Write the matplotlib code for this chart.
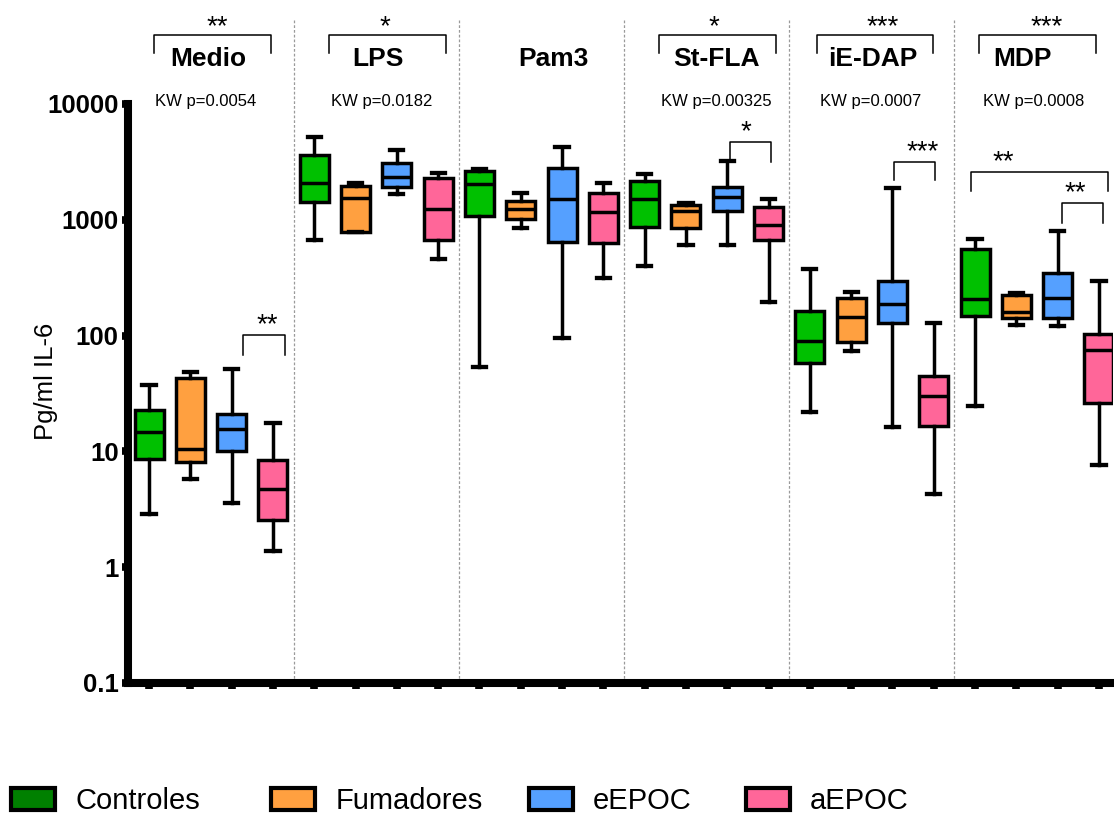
import numpy as np
import matplotlib.pyplot as plt
from matplotlib.patches import Patch
from matplotlib.transforms import blended_transform_factory

plt.rcParams['font.family'] = ['Liberation Sans', 'DejaVu Sans']

stimuli = ['Medio', 'LPS', 'Pam3', 'St-FLA', 'iE-DAP', 'MDP']
groups = ['Controles', 'Fumadores', 'eEPOC', 'aEPOC']
box_colors = ['#00C000', '#FFA040', '#55A0FF', '#FF6699']
legend_colors = ['#008000', '#FFA040', '#55A0FF', '#FF6699']

kw_labels = ['KW p=0.0054', 'KW p=0.0182', '', 'KW p=0.00325', 'KW p=0.0007', 'KW p=0.0008']
kw_stars = ['**', '*', '', '*', '***', '***']

# IL-6 (pg/ml) box statistics: one row per stimulus, columns follow `groups`
whis_lo = [[2.9, 5.8, 3.6, 1.38],
           [670, 785, 1670, 458],
           [54, 850, 95, 314],
           [400, 606, 606, 195],
           [22, 74, 16.3, 4.3],
           [24.7, 124, 121, 7.6]]
q1 = [[8.6, 8.1, 10.1, 2.56],
      [1425, 785, 1920, 670],
      [1080, 1016, 643, 630],
      [867, 850, 1190, 670],
      [58, 88, 128, 16.6],
      [148, 142, 142, 26.2]]
med = [[14.7, 10.5, 15.6, 4.7],
       [2080, 1540, 2340, 1240],
       [2040, 1240, 1510, 1167],
       [1510, 1190, 1574, 902],
       [90, 145, 187, 30],
       [207, 160, 211, 75]]
q3 = [[22.8, 43, 21, 8.4],
      [3630, 1960, 3100, 2300],
      [2650, 1450, 2800, 1700],
      [2160, 1350, 1920, 1290],
      [163, 211, 296, 44.8],
      [560, 224, 347, 103]]
whis_hi = [[37.4, 48.5, 51.5, 17.6],
           [5190, 2080, 4010, 2540],
           [2750, 1700, 4250, 2080],
           [2480, 1400, 3220, 1510],
           [376, 238, 1880, 128],
           [683, 233, 800, 296]]

# label positions (x in box units) for titles, KW text and the KW brackets
title_x = [2.43, 6.54, 10.78, 14.75, 18.53, 22.16]
kw_x = [2.38, 6.64, 0, 14.73, 18.46, 22.43]
kw_star_x = [2.65, 6.71, 0, 14.68, 18.77, 22.74]
kw_span = [(1.12, 3.95), (5.36, 8.19), None, (13.35, 16.18), (17.17, 19.98), (21.1, 23.93)]

# post-hoc comparisons: x0, x1, bar height, leg bottom, star x, star y, label
pairs = [(3.28, 4.29, 101, 68, 3.86, 124, '**'),
         (15.07, 16.06, 4700, 3160, 15.46, 5720, '*'),
         (19.04, 20.03, 3160, 2210, 19.74, 3850, '***'),
         (20.9, 24.22, 2590, 1770, 21.68, 3160, '**'),
         (23.1, 24.1, 1396, 938, 23.42, 1703, '**')]

fig = plt.figure(figsize=(11.14, 8.18), dpi=100)
ax = fig.add_axes([128.4 / 1114, 135 / 818, 985 / 1114, 579 / 818])

stats = []
for i in range(len(stimuli)):
    for j in range(len(groups)):
        stats.append(dict(whislo=whis_lo[i][j], q1=q1[i][j], med=med[i][j],
                          q3=q3[i][j], whishi=whis_hi[i][j], fliers=[]))

positions = np.arange(1, len(stats) + 1)
lw = 2.5
bp = ax.bxp(stats, positions=positions, widths=0.7, capwidths=0.32,
            patch_artist=True, showfliers=False,
            boxprops=dict(linewidth=lw, edgecolor='black'),
            medianprops=dict(color='black', linewidth=lw),
            whiskerprops=dict(color='black', linewidth=lw),
            capprops=dict(color='black', linewidth=lw + 0.6))
for k, box in enumerate(bp['boxes']):
    box.set_facecolor(box_colors[k % 4])
    box.set_joinstyle('miter')

ax.set_yscale('log')
ax.set_ylim(0.1, 10000)
ax.set_xlim(0.5, 24.35)
ax.set_yticks([0.1, 1, 10, 100, 1000, 10000])
ax.set_yticklabels(['0.1', '1', '10', '100', '1000', '10000'],
                   fontsize=18.5, fontweight='bold')
ax.yaxis.set_minor_locator(plt.NullLocator())
ax.set_xticks(positions)
ax.set_xticklabels([])
ax.tick_params(axis='both', width=5.5, length=4, color='black')
ax.tick_params(axis='y', pad=3)

for side in ['top', 'right']:
    ax.spines[side].set_visible(False)
for side in ['left', 'bottom']:
    ax.spines[side].set_linewidth(5.8)

trans = blended_transform_factory(ax.transData, ax.transAxes)

# dashed separators between stimuli
for g in range(1, len(stimuli)):
    xs = 4 * g + 0.5
    ax.plot([xs, xs], [0, 1.145], transform=trans, color='#9a9a9a',
            lw=0.9, ls=(0, (2.2, 1.6)), clip_on=False, zorder=0)

for i, name in enumerate(stimuli):
    ax.text(title_x[i], 1.078, name, transform=trans, ha='center', va='center',
            fontsize=19, fontweight='bold')
    if kw_labels[i]:
        ax.text(kw_x[i], 1.004, kw_labels[i], transform=trans, ha='center',
                va='center', fontsize=12)
        x0, x1 = kw_span[i]
        ax.plot([x0, x0, x1, x1], [1.088, 1.119, 1.119, 1.088], transform=trans,
                color='black', lw=1.1, clip_on=False)
        ax.text(kw_star_x[i], 1.133, kw_stars[i], transform=trans, ha='center',
                va='center', fontsize=20)

for x0, x1, ybar, yleg, sx, sy, lab in pairs:
    ax.plot([x0, x0, x1, x1], [yleg, ybar, ybar, yleg], color='black',
            lw=1.1, clip_on=False)
    ax.text(sx, sy, lab, ha='center', va='center', fontsize=20)

fig.text(46 / 1114, 1 - 381 / 818, 'Pg/ml IL-6', rotation=90, ha='center',
         va='center', fontsize=18.5)

# one legend per group so each entry sits at its own spot
legend_left = [11, 271, 529, 746]
for color, name, xl in zip(legend_colors, groups, legend_left):
    fig.legend([Patch(facecolor=color, edgecolor='black', linewidth=3)], [name],
               loc='center left', bbox_to_anchor=(xl / 1114, 17 / 818),
               frameon=False, fontsize=21, handlelength=1.5, handleheight=0.8,
               handletextpad=0.7, borderaxespad=0, borderpad=0)

fig.savefig('out.png', dpi=100)
